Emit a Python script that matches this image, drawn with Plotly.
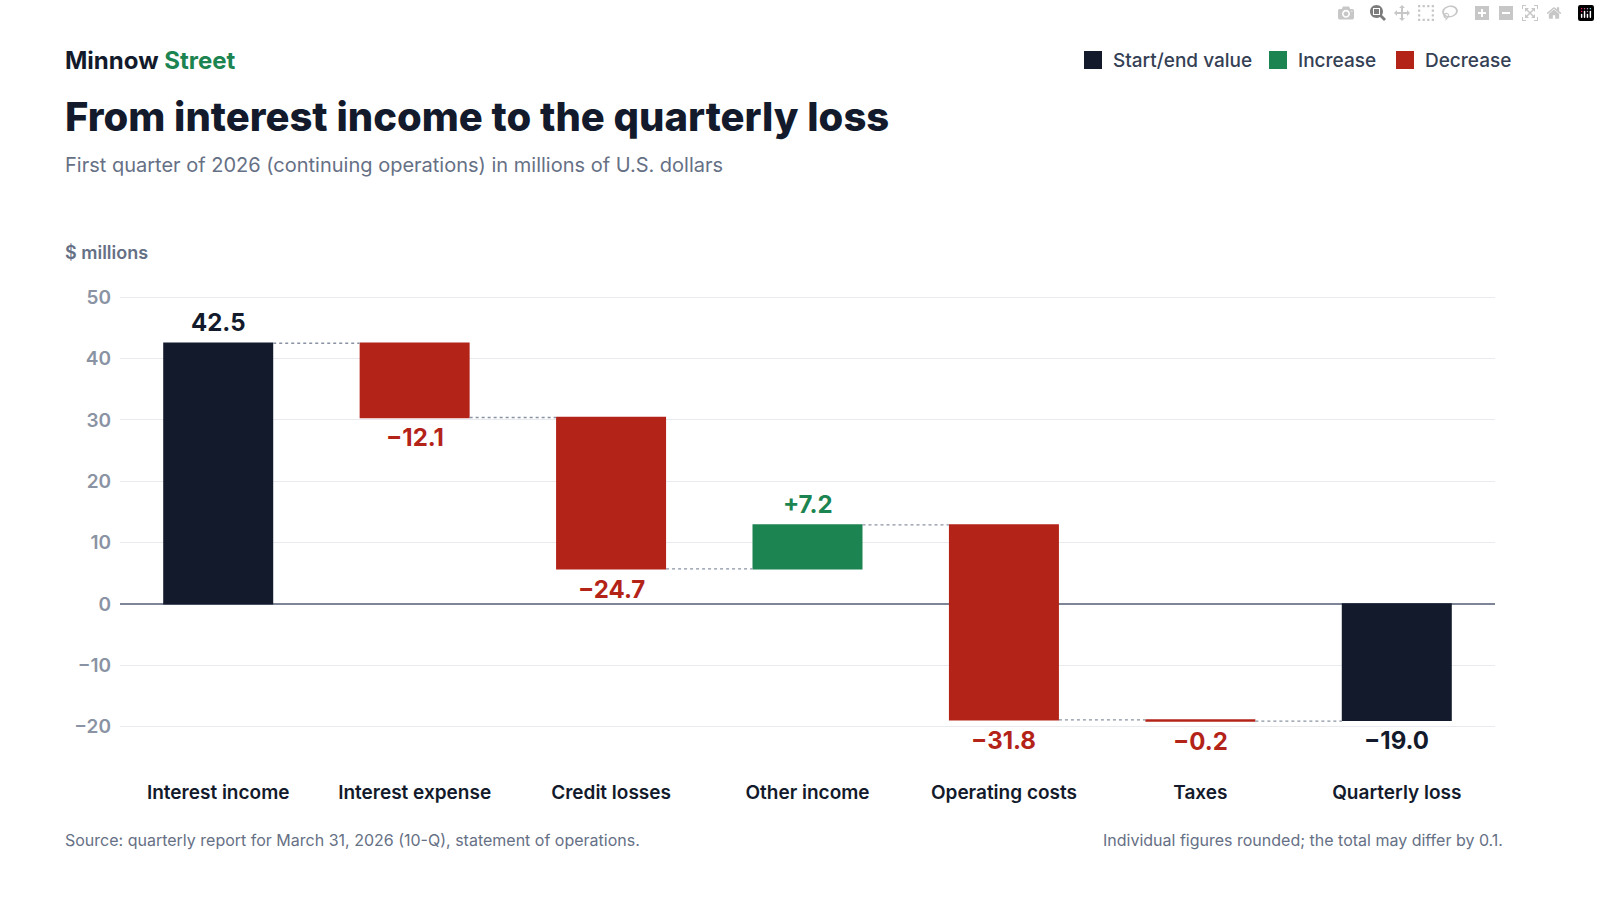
import plotly.graph_objects as go

categories = ["Interest income", "Interest expense", "Credit losses", "Other income",
              "Operating costs", "Taxes", "Quarterly loss"]
values = [42.5, -12.1, -24.7, 7.2, -31.8, -0.2, -19.0]
measures = ["absolute", "relative", "relative", "relative", "relative", "relative", "absolute"]
labels = ["42.5", "−12.1", "−24.7", "+7.2", "−31.8", "−0.2", "−19.0"]

NAVY, GREEN, RED = "#121a2b", "#1b8450", "#b42318"
GRID, MUTED = "#e8eaee", "#8a93a3"
FONT = "Inter, Noto Sans, sans-serif"

fig = go.Figure(go.Waterfall(
    x=categories, y=values, measure=measures, width=0.56,
    increasing=dict(marker=dict(color=GREEN)),
    decreasing=dict(marker=dict(color=RED)),
    totals=dict(marker=dict(color=NAVY)),
    connector=dict(line=dict(color="#8a93a3", width=1.3, dash="dot")),
    textinfo="none", hoverinfo="skip",
))

cum = 0
for c, v, m, t in zip(categories, values, measures, labels):
    if m == "absolute":
        start, end = 0, v
        col = NAVY
    else:
        start, end = cum, cum + v
        col = GREEN if v > 0 else RED
    cum = end
    top, bot = max(start, end), min(start, end)
    if v > 0:
        fig.add_annotation(x=c, y=top, text=t, showarrow=False, yanchor="bottom",
                           yshift=4, font=dict(size=24, color=col, family=FONT, weight=700))
    else:
        fig.add_annotation(x=c, y=bot, text=t, showarrow=False, yanchor="top",
                           yshift=-4, font=dict(size=24, color=col, family=FONT, weight=700))

fig.update_layout(
    width=1600, height=900, plot_bgcolor="white", paper_bgcolor="white",
    margin=dict(l=120, r=105, t=285, b=155), showlegend=False,
    font=dict(family=FONT),
    xaxis=dict(showgrid=False, tickfont=dict(size=19, color="#121a2b", family=FONT, weight=600),
               ticks="", ticklabelstandoff=34),
    yaxis=dict(range=[-23, 52], tickvals=[-20, -10, 0, 10, 20, 30, 40, 50],
               ticktext=["−20", "−10", "0", "10", "20", "30", "40", "50"],
               tickfont=dict(size=19, color=MUTED, family=FONT, weight=600),
               gridcolor=GRID, gridwidth=1,
               zeroline=True, zerolinecolor="#7d8596", zerolinewidth=1.5,
               ticklabelstandoff=8),
)

ann = [
    dict(x=63, y=60, text="Minnow <span style='color:#1b8450'>Street</span>", size=24, color=NAVY, w=700),
    dict(x=63, y=116, text="From interest income to the quarterly loss", size=40, color=NAVY, w=800),
    dict(x=63, y=165, text="First quarter of 2026 (continuing operations) in millions of U.S. dollars", size=20, color="#667085", w=400),
    dict(x=63, y=252, text="$ millions", size=18, color="#667085", w=600),
    dict(x=63, y=840, text="Source: quarterly report for March 31, 2026 (10-Q), statement of operations.", size=16, color="#667085", w=400),
]
for a in ann:
    fig.add_annotation(xref="paper", yref="paper", x=(a["x"]-120)/1375, y=1-(a["y"]-285)/460,
                       xanchor="left", yanchor="middle", showarrow=False, text=a["text"],
                       font=dict(size=a["size"], color=a["color"], family=FONT, weight=a["w"]))
fig.add_annotation(xref="paper", yref="paper", x=(1505-120)/1375, y=1-(840-285)/460,
                   xanchor="right", yanchor="middle", showarrow=False,
                   text="Individual figures rounded; the total may differ by 0.1.",
                   font=dict(size=16, color="#667085", family=FONT))

legend = [("Start/end value", NAVY, 1084), ("Increase", GREEN, 1269), ("Decrease", RED, 1396)]
for name, col, px in legend:
    fig.add_shape(type="rect", xref="paper", yref="paper",
                  x0=(px-120)/1375, x1=(px+18-120)/1375,
                  y0=1-(69-285)/460, y1=1-(51-285)/460,
                  fillcolor=col, line=dict(width=0), layer="above")
    fig.add_annotation(xref="paper", yref="paper", x=(px+27-120)/1375, y=1-(60-285)/460,
                       xanchor="left", yanchor="middle", showarrow=False,
                       text=name, font=dict(size=19, color="#344054", family=FONT, weight=500))

fig.write_html("out.html", post_script="document.body.style.margin='0';")
